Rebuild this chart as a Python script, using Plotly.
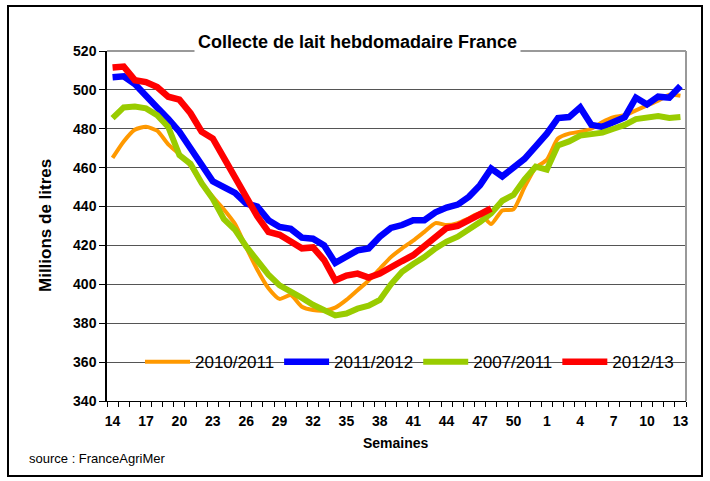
import plotly.graph_objects as go

# Week labels (week 14 of year N to week 13 of year N+1)
weeks = list(range(14, 53)) + list(range(1, 14))

# Series values (millions de litres)
s_2010_2011 = [465, 473.5, 479.5, 481, 479, 472, 467, 461, 452, 445,
               438.5, 431, 419, 407.5, 398, 392.5, 394.5, 388.5, 386.8, 386.5,
               388, 392, 397, 402, 408, 414, 418.5, 422.5, 427, 431.5,
               430.5, 431.5, 434, 436.5, 431, 438, 438.5, 450, 460, 464,
               475, 477.5, 478.5, 480, 483.5, 486, 487, 489.5, 492, 494.5,
               497.5, 497]
s_2011_2012 = [506.5, 507, 503, 497.5, 491, 485, 478.5, 470, 462, 453,
               450, 447, 441.5, 440, 433, 429.5, 428.5, 424, 423.5, 420,
               411, 414.5, 417.5, 418.5, 424.5, 429, 430.5, 433, 433, 437,
               439.5, 441, 445, 451, 459.5, 455.5, 460.5, 464.5, 471, 477.5,
               485.5, 486, 491, 482, 481, 483.5, 486, 496, 492.5, 496.5,
               496, 502]
s_2007_2011 = [485.5, 491, 491.5, 490.5, 487, 481, 466.5, 462, 452, 444,
               433.5, 428, 419.5, 412, 405, 399.5, 396.5, 393, 389.5, 386.5,
               384, 385, 387.5, 389, 392, 400, 406.5, 410.5, 414, 418.5,
               422, 424.5, 428, 432, 436.5, 443, 446, 454, 460.5, 459,
               471.5, 473.5, 476.5, 477, 478, 480, 482, 485, 485.5, 486.5,
               485.5, 486]
s_2012_13 = [511.5, 512, 505, 504, 501.5, 496.5, 495, 488, 478.5, 475,
             465, 454.5, 444.5, 435, 427, 425.5, 422, 418.5, 419, 412.5,
             402, 404.5, 405.5, 403.5, 405.5, 409, 412, 415, 419.5, 423.5,
             429, 430, 433, 436.5, 439] + [None] * 17

series_names = ["2010/2011", "2011/2012", "2007/2011", "2012/13"]
series_values = [s_2010_2011, s_2011_2012, s_2007_2011, s_2012_13]
series_colors = ["#FF9900", "#0000FF", "#99CC00", "#FF0000"]
series_widths = [4, 6.5, 6, 6.5]
series_shapes = ["spline", "linear", "linear", "linear"]

y_ticks = list(range(340, 521, 20))

FONT = "Liberation Sans, Arial, sans-serif"
idx = list(range(len(weeks)))

fig = go.Figure()
for name, vals, col, w, shp in zip(series_names, series_values, series_colors,
                                   series_widths, series_shapes):
    fig.add_trace(go.Scatter(
        x=idx, y=vals, name=name, mode="lines",
        line=dict(color=col, width=w, shape=shp,
                  smoothing=0.6 if shp == "spline" else None),
        connectgaps=False,
    ))

fig.update_layout(
    width=710, height=481,
    margin=dict(l=107, r=24, t=51, b=80),
    paper_bgcolor="white", plot_bgcolor="white",
    font=dict(family=FONT, color="black"),
    showlegend=True,
    legend=dict(orientation="h", x=0.057, xanchor="left", y=0.111,
                yanchor="middle", font=dict(size=17, family=FONT),
                bgcolor="rgba(0,0,0,0)", itemwidth=45,
                traceorder="normal"),
    xaxis=dict(
        range=[-0.5, len(weeks) - 0.5],
        tickmode="array",
        tickvals=idx[::3],
        ticktext=[str(weeks[i]) for i in idx[::3]],
        ticks="",
        ticklabelstandoff=7,
        showline=True, linecolor="black", linewidth=1,
        showgrid=False, zeroline=False,
        tickfont=dict(size=14, family=FONT, weight="bold"),
        minor=dict(tickmode="linear", tick0=-0.5, dtick=1, ticks="outside",
                   ticklen=5, tickcolor="black", showgrid=False),
    ),
    yaxis=dict(
        range=[340, 520],
        tickmode="array", tickvals=y_ticks,
        ticks="outside", ticklen=6, tickcolor="black",
        showline=True, linecolor="black", linewidth=1.5,
        showgrid=True, gridcolor="#555555", gridwidth=1,
        zeroline=False,
        tickfont=dict(size=14, family=FONT, weight="bold"),
    ),
    shapes=[
        # white area behind the legend
        dict(type="rect", xref="paper", yref="paper",
             x0=(143 - 107) / 579, x1=(676 - 107) / 579,
             y0=(401 - 392) / 350, y1=(401 - 318) / 350,
             fillcolor="white", line=dict(width=0), layer="between"),
        # plot-area frame (top, right)
        dict(type="line", xref="paper", yref="paper", x0=0, x1=1, y0=1, y1=1,
             line=dict(color="#999999", width=2)),
        dict(type="line", xref="paper", yref="paper", x0=1, x1=1, y0=0, y1=1,
             line=dict(color="#999999", width=2)),
        # outer chart border
        dict(type="rect", xref="paper", yref="paper",
             x0=(8 - 107) / 579, x1=(702 - 107) / 579,
             y0=(401 - 476) / 350, y1=(401 - 6) / 350,
             line=dict(color="black", width=2), fillcolor="rgba(0,0,0,0)"),
    ],
    annotations=[
        dict(text="<b>Collecte de lait hebdomadaire France</b>",
             xref="paper", yref="paper", x=(357 - 107) / 579,
             y=(401 - 42) / 350, xanchor="center", yanchor="middle",
             showarrow=False, bgcolor="white",
             borderpad=3, font=dict(size=18, family=FONT)),
        dict(text="<b>Millions de litres</b>", xref="paper", yref="paper",
             x=(45 - 107) / 579, y=0.5, xanchor="center", yanchor="middle",
             textangle=-90, showarrow=False,
             font=dict(size=17, family=FONT)),
        dict(text="<b>Semaines</b>", xref="paper", yref="paper",
             x=(396 - 107) / 579, y=(401 - 443) / 350,
             xanchor="center", yanchor="middle", showarrow=False,
             font=dict(size=14, family=FONT)),
        dict(text="source : FranceAgriMer", xref="paper", yref="paper",
             x=(27 - 107) / 579, xanchor="left", y=(401 - 458) / 350,
             yanchor="middle",
             showarrow=False, font=dict(size=13, family=FONT)),
    ],
)

fig.write_html("out.html",
               config={"displayModeBar": False},
               post_script="document.body.style.margin='0';"
                           "document.body.style.overflow='hidden';")
